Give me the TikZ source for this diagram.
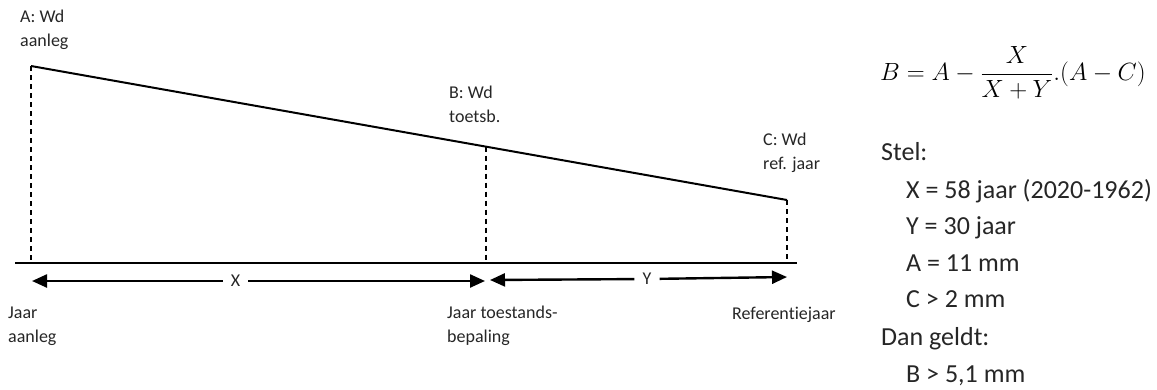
\documentclass[tikz,border=0pt]{standalone}
\usepackage{fontspec}
\setmainfont{Carlito}[Ligatures={NoCommon}]
\usetikzlibrary{arrows.meta,calc}
\begin{document}
\begin{tikzpicture}[x=1pt,y=-1pt,
  lbl/.style={font=\fontsize{18}{24}\selectfont, text=black!85, align=left, inner sep=0pt, anchor=west},
  rtxt/.style={font=\fontsize{26}{30}\selectfont, text=black!85, inner sep=0pt, anchor=base west},
  slope/.style={line width=2pt},
  guide/.style={line width=1.2pt, dash pattern=on 5pt off 4pt},
  axisline/.style={line width=1.3pt},
  dim/.style={line width=2.4pt, -{Triangle[length=15pt,width=13pt]}},
  dimlbl/.style={font=\fontsize{18}{24}\selectfont, text=black!85, inner xsep=8pt, inner ysep=0pt}]
\useasboundingbox (0,0) rectangle (1157,389);

% points on the sloping line
\coordinate (A) at (31,66);
\coordinate (C) at (787,200);
\coordinate (B) at ($(A)!0.6019!(C)$);
% time axis
\coordinate (axL) at (15,263);
\coordinate (axR) at (797,263);
\coordinate (Af) at (A |- axL);
\coordinate (Bf) at (B |- axL);
\coordinate (Cf) at (C |- axL);

\draw[slope] (A) -- (C);
\draw[guide] (A) -- (Af);
\draw[guide] (B) -- (Bf);
\draw[guide] (C) -- (Cf);
\draw[axisline] (axL) -- (axR);

% interval X
\coordinate (xs) at (32,281);
\coordinate (xe) at (485,281);
\node[dimlbl] (xl) at (235.5,281) {X};
\draw[dim] (xl) -- (xs);
\draw[dim] (xl) -- (xe);

% interval Y
\coordinate (ys) at (490,280);
\coordinate (ye) at (787,277);
\node[dimlbl] (yl) at (647,279) {Y};
\draw[dim] (yl) -- (ys);
\draw[dim] (yl) -- (ye);

% labels of the values
\node[lbl] (la) at (20,30) {A: Wd\\aanleg};
\node[lbl] (lb) at (449,104) {B: Wd\\toetsb.};
\node[lbl] (lc) at (763,153) {C: Wd\\ref. jaar};

% labels of the years
\node[lbl] (ja) at (8,326) {Jaar\\aanleg};
\node[lbl] (jt) at (447,326) {Jaar toestands-\\bepaling};
\node[lbl] (jr) at (732,315) {Referentiejaar};

% formula and worked example
\node[anchor=base west, inner sep=0pt, font=\fontsize{25.5}{30}\selectfont] (eq) at (880,80)
  {$B = A - \displaystyle\frac{X}{X+Y}.(A-C)$};
\node[rtxt] (s1) at (881,160) {Stel:};
\node[rtxt] (s2) at (906,198) {X = 58 jaar (2020-1962)};
\node[rtxt] (s3) at (906,234) {Y = 30 jaar};
\node[rtxt] (s4) at (906,271) {A = 11 mm};
\node[rtxt] (s5) at (906,307) {C > 2 mm};
\node[rtxt] (s6) at (881,345) {Dan geldt:};
\node[rtxt] (s7) at (906,382) {B > 5,1 mm};
\end{tikzpicture}
\end{document}
